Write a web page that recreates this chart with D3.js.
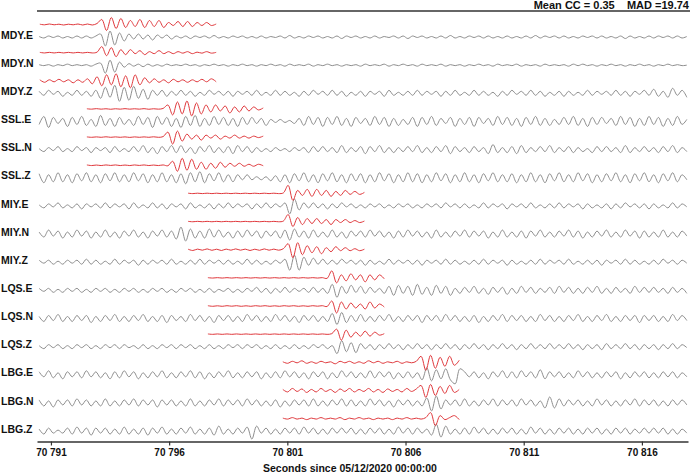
<!DOCTYPE html>
<html>
<head>
<meta charset="utf-8">
<script src="https://cdn.jsdelivr.net/npm/d3@7"></script>
<style>
  body { margin: 0; background: #fff; }
  text { font-family: "Liberation Sans", Arial, sans-serif; font-weight: bold; fill: #111; }
</style>
</head>
<body>
<div id="chart"></div>
<script>
// station / channel names, top to bottom
var channels = ["MDY.E", "MDY.N", "MDY.Z", "SSL.E", "SSL.N", "SSL.Z", "MIY.E", "MIY.N", "MIY.Z",
  "LQS.E", "LQS.N", "LQS.Z", "LBG.E", "LBG.N", "LBG.Z"];

// continuous data window (seconds since 05/12/2020 00:00:00)
var streamStart = 70790.5;
var streamEnd = 70817.9;

// template start time per channel, template length
var templateStarts = [70790.53, 70790.53, 70790.53, 70792.52, 70792.52, 70792.52, 70796.8, 70796.8, 70796.8,
  70797.64, 70797.64, 70797.64, 70800.81, 70800.81, 70800.81];
var templateLength = 7.46;

var tickValues = [70791, 70796, 70801, 70806, 70811, 70816];
var statsText = "Mean CC = 0.35    MAD =19.74";
var xTitle = "Seconds since 05/12/2020 00:00:00";

// continuous data (grey), amplitude
var streamMDYE = [0.5,-1,1,-0.5,1,-1,0.5,-1,1,-1, 1,-1,1,3,-9,6,-8,4,-4,3, -2,3,-2,2,-3,2,-1,2,-2,1,
  -1,1,-1.5,1,-0.5,1,-1,1.5,-1,0.5, -1,1,-0.5,1,-1,0.5,-1,1,-1,0.5, -0.5,1,-1,1.5,-1,0.5,-1,1,-0.5,1,
  -1,0.5,-1,1,-1.5,1,-0.5,1,-1,0.5, -1,1,-1,0.5,-0.5,1,-1,1,-1.5,1, -0.5,1,-1,0.5,-1,1,-1,1.5,-1,0.5,
  -1,1,-0.5,1,-1,1,-1,0.5,-1,1, -1,0.5,-1,1,-1,1.5,-1,1,-0.5,1, -1,1,-1,0.5,-1,1,-0.5,1,-1,1,
  -1,0.5,-1,1,-1.5,1,-1,0.5,-1,1, -1,1,-0.5,1,-1,1,-1,0.5];
var streamMDYN = [0.5,-0.5,0.5,-1,0.5,-0.5,1,-0.5,0.5,-0.5, 0.5,-1,1,2,-8,5,-7,3,-2,1.5, -1,1,-1.5,1,-1,0.5,-1,1,-0.5,0.5,
  -0.5,1,-0.5,0.5,-1,0.5,-0.5,1,-0.5,0.5, -1,0.5,-0.5,1,-0.5,0.5,-1,0.5,-0.5,1, -0.5,0.5,-1,1,-0.5,0.5,-0.5,1,-1,0.5,
  -0.5,1,-0.5,0.5,-1,0.5,-0.5,0.5,-1,1, -0.5,0.5,-0.5,1,-1,0.5,-0.5,1,-0.5,0.5, -1,1,-0.5,0.5,-0.5,1,-1,0.5,-0.5,0.5,
  -1,0.5,-0.5,1,-0.5,0.5,-1,1,-0.5,0.5, -0.5,1,-1,0.5,-0.5,0.5,-1,1,-0.5,0.5, -0.5,0.5,-1,1,-0.5,1,-0.5,0.5,-1,0.5,
  -0.5,1,-0.5,0.5,-1,0.5,-0.5,1,-0.5,0.5, -1,0.5,-0.5,1,-0.5,0.5,-0.5,0];
var streamMDYZ = [2,-2,3,-1,2,-3,1,-2,3,-2, 2,-3,3,-5,6,-4,8,-8,6,-7, 7,-5,4,-6,3,-2,3,-3,2,-2,
  3,-2,2,-3,1,-2,3,-1,2,-2, 2,-3,2,-1,2,-2,3,-2,1,-2, 3,-2,2,-2,1,-3,2,-2,3,-1,
  2,-2,3,-2,2,-3,1,-2,2,-3, 2,-1,2,-3,3,-2,1,-2,2,-2, 3,-2,2,-1,2,-3,2,-2,3,-2,
  1,-2,3,-2,2,-2,1,-3,2,-2, 3,-1,2,-2,3,-2,2,-3,1,-2, 2,-3,2,-2,1,-2,3,-2,2,-1,
  2,-2,3,-2,2,-3,2,-1,3,-2, 4,-3,2,-4,5,-2,3,-4];
var streamSSLE = [-3,5,-6,4,-2,3,-5,4,-3,5, -4,2,-5,6,-4,3,-5,4,-3,2, -4,5,-3,4,-6,5,-3,4,-5,3,
  -6,5,-4,6,-5,3,-4,5,-3,4, -4,3,-5,4,-3,4,-2,3,-4,2, -1,2,-1,1,-2,3,-4,5,-3,4,
  -5,4,-3,5,-4,3,-5,4,-2,3, -4,5,-3,4,-5,3,-4,2,-3,4, -5,4,-3,5,-4,3,-2,4,-5,3,
  -3,4,-5,4,-2,3,-4,5,-3,4, -4,3,-5,4,-3,5,-4,3,-4,2, -3,4,-3,5,-4,3,-5,4,-3,4,
  -2,3,-4,5,-3,4,-5,3,-4,5, -3,4,-5,3,-4,5,-3,2];
var streamSSLN = [1,-2,2,-1,3,-2,1,-2,3,-1, 2,-3,2,-1,2,-3,3,-2,1,-2, 3,-2,4,-3,2,-4,3,-2,4,-3,
  4,-3,2,-4,3,-2,4,-3,2,-3, 3,-4,4,-2,3,-3,2,-2,1,-2, 2,-1,1,-2,2,-1,2,-3,3,-2,
  3,-2,2,-3,4,-3,2,-2,3,-4, 3,-2,4,-3,2,-3,2,-2,3,-2, 4,-3,2,-3,3,-2,4,-4,3,-2,
  2,-3,3,-2,2,-4,5,-3,2,-3, 3,-4,4,-3,2,-2,3,-2,4,-3, 2,-2,3,-3,2,-2,1,-3,3,-2,
  3,-2,2,-3,4,-3,2,-2,3,-2, 2,-3,3,-2,4,-3,2,-2];
var streamSSLZ = [4,-5,3,-4,5,-4,3,-5,4,-3, 5,-4,3,-5,4,-3,5,-4,3,-4, 5,-3,4,-5,3,-4,5,-4,3,-5,
  4,-6,5,-4,6,-5,4,-3,5,-4, 3,-4,3,-2,3,-2,1,-2,1,-3, 2,-4,3,-5,4,-3,5,-4,3,-5,
  4,-3,5,-4,3,-5,4,-3,4,-5, 3,-4,5,-3,4,-5,3,-4,5,-4, 4,-5,3,-4,5,-3,4,-5,3,-4,
  5,-4,3,-5,4,-3,5,-4,3,-4, 4,-5,3,-4,5,-4,3,-5,4,-3, 5,-4,3,-4,5,-3,4,-5,3,-4,
  4,-3,5,-4,3,-5,4,-3,5,-4, 3,-5,4,-3,5,-4,3,-2];
var streamMIYE = [1,-2,2,-1,3,-2,1,-2,2,-3, 2,-1,2,-2,3,-2,2,-1,2,-3, 3,-2,1,-2,3,-2,2,-3,2,-1,
  2,-3,3,-2,1,-2,2,-3,2,-2, 3,-2,2,-1,2,-3,2,-2,3,-2, 2,-1,3,-8,7,-4,3,-2,3,-2,
  2,-3,2,-2,3,-1,2,-2,1,-2, 2,-1,2,-2,1,-2,2,-1,2,-2, 1,-2,2,-1,2,-2,3,-1,2,-2,
  2,-2,1,-2,3,-2,2,-1,2,-3, 2,-1,2,-2,3,-2,1,-2,2,-2, 3,-2,2,-1,2,-3,2,-2,1,-2,
  2,-3,2,-2,3,-1,2,-2,2,-3, 2,-2,1,-2,3,-2,2,-1];
var streamMIYN = [2,-3,4,-2,3,-4,2,-3,4,-2, 3,-4,2,-3,4,-3,2,-4,3,-2, 4,-3,2,-4,3,-2,4,-3,3,-5,
  7,-7,5,-4,3,-4,5,-3,4,-3, 2,-4,3,-3,4,-2,3,-4,3,-2, 3,-4,4,-6,5,-3,3,-4,4,-3,
  2,-3,4,-3,2,-4,3,-2,3,-3, 4,-2,3,-3,2,-4,3,-3,4,-2, 3,-3,2,-4,4,-3,2,-3,3,-2,
  4,-3,3,-2,3,-4,2,-3,4,-3, 2,-3,3,-4,3,-2,4,-3,2,-3, 3,-2,4,-3,3,-4,2,-3,3,-2,
  4,-3,2,-3,4,-2,3,-4,3,-3, 2,-3,4,-3,2,-3,3,-2];
var streamMIYZ = [2,-1,2,-2,1,-2,2,-1,2,-2, 3,-2,2,-2,1,-2,3,-2,2,-1, 2,-3,2,-2,2,-1,2,-2,3,-2,
  1,-2,2,-2,3,-2,2,-1,2,-2, 2,-2,1,-2,3,-2,2,-2,1,-2, 2,-1,3,-8,7,-8,5,-3,4,-2,
  3,-2,2,-2,3,-1,2,-2,2,-3, 2,-2,1,-2,3,-2,2,-1,2,-2, 2,-3,2,-1,2,-2,3,-2,2,-2,
  1,-2,2,-2,3,-2,2,-1,2,-3, 2,-2,1,-2,2,-2,3,-2,2,-1, 2,-2,3,-2,1,-2,2,-2,2,-3,
  2,-1,2,-2,3,-2,2,-2,1,-2, 2,-2,3,-1,2,-2,2,-1];
var streamLQSE = [2,-1,2,-2,1,-2,2,-1,2,-2, 1,-2,2,-1,2,-2,1,-2,2,-1, 2,-2,1,-2,2,-1,2,-2,1,-2,
  2,-1,2,-2,1,-2,2,-2,1,-1, 2,-2,1,-2,2,-1,3,-2,2,-3, 2,-2,3,-2,2,-1,2,-2,3,-2,
  2,-3,6,-7,4,-3,5,-2,4,-3, 3,-2,2,-3,4,-5,5,-3,4,-5, 6,-4,3,-5,5,-3,4,-5,2,-3,
  3,-2,4,-3,2,-4,3,-2,3,-4, 2,-3,4,-2,3,-3,2,-2,3,-3, 4,-2,3,-3,2,-3,3,-2,4,-3,
  2,-3,3,-2,2,-3,4,-2,3,-2, 3,-2,2,-3,3,-2,2,-3];
var streamLQSN = [2,-3,3,-2,4,-3,2,-3,3,-2, 3,-4,2,-3,3,-2,4,-3,2,-3, 3,-2,4,-3,2,-3,3,-4,3,-2,
  2,-3,4,-2,3,-3,2,-4,3,-2, 3,-3,2,-3,4,-2,3,-3,2,-3, 4,-2,3,-3,2,-4,3,-2,3,-3,
  2,-3,5,-6,6,-4,3,-3,4,-3, 2,-3,3,-2,4,-3,2,-3,3,-2, 3,-4,3,-2,3,-3,4,-2,3,-3,
  2,-3,3,-4,2,-3,3,-2,4,-3, 3,-2,3,-3,2,-3,4,-2,3,-3, 2,-3,3,-2,4,-3,2,-3,3,-2,
  4,-3,2,-3,3,-2,3,-4,3,-2, 3,-3,2,-3,4,-2,3,-2];
var streamLQSZ = [1,-2,2,-1,2,-2,1,-2,2,-1, 2,-2,1,-2,2,-1,2,-2,2,-1, 1,-2,2,-2,1,-2,2,-1,2,-2,
  2,-1,2,-2,1,-2,2,-2,1,-2, 2,-1,2,-2,2,-1,2,-2,1,-2, 2,-2,1,-2,2,-2,1,-2,2,-1,
  2,-2,1,-7,6,-5,4,-6,3,-2, 2,-3,2,-2,3,-2,2,-3,2,-2, 3,-2,2,-3,2,-2,3,-2,2,-3,
  2,-2,3,-2,2,-3,2,-2,3,-2, 2,-3,2,-2,3,-2,2,-2,3,-2, 2,-2,3,-2,2,-3,2,-2,2,-3,
  3,-2,2,-2,3,-2,2,-3,2,-2, 2,-3,2,-2,3,-2,2,-1];
var streamLBGE = [3,-2,4,-3,2,-4,3,-2,3,-3, 4,-2,3,-3,2,-4,3,-3,4,-2, 3,-4,2,-3,3,-2,4,-3,2,-3,
  3,-2,4,-3,3,-4,2,-3,3,-2, 4,-3,2,-3,3,-2,3,-4,2,-3, 3,-3,4,-2,3,-3,2,-4,3,-2,
  3,-4,2,-3,4,-2,3,-3,2,-3, 4,-3,3,-2,3,-4,2,-3,3,-3, 2,-5,7,-6,5,-4,6,-5,-9,6,
  3,-2,3,-3,2,-4,3,-2,4,-3, 3,-3,4,-2,3,-3,5,-4,3,-2, 3,-3,2,-3,4,-2,3,-3,2,-3,
  3,-2,3,-4,2,-3,3,-2,3,-3, 2,-3,3,-2,3,-3,2,-2];
var streamLBGN = [3,-3,2,-4,3,-2,3,-3,4,-2, 3,-3,2,-3,4,-3,2,-3,3,-2, 4,-3,3,-2,3,-4,3,-2,3,-3,
  2,-3,4,-3,2,-3,3,-2,4,-3, 3,-2,3,-3,4,-2,3,-3,2,-3, 3,-4,2,-3,3,-2,3,-3,4,-3,
  2,-3,3,-2,4,-3,3,-3,2,-3, 4,-2,3,-3,2,-4,3,-2,3,-3, 2,-3,5,-8,7,-6,3,-2,3,-3,
  4,-3,2,-3,3,-2,4,-3,3,-2, 3,-3,4,-2,3,-3,2,-5,6,-5, 4,-3,3,-2,3,-3,2,-3,4,-2,
  3,-3,2,-3,3,-2,4,-3,3,-2, 3,-3,2,-3,3,-2,3,-2];
var streamLBGZ = [2,-3,3,-2,1,-2,3,-3,4,-2, 3,-4,3,-2,3,-3,2,-3,4,-3, 2,-3,3,-4,3,-2,4,-3,2,-3,
  3,-2,4,-3,2,-3,3,-4,5,-3, 2,-3,3,-2,4,-8,5,-2,3,-3, 2,-3,3,-2,3,-3,4,-2,3,-3,
  2,-3,3,-2,3,-2,3,-3,2,-3, 3,-2,3,-3,2,-3,4,-2,3,-3, 3,-2,2,-4,7,-6,5,-3,2,-3,
  3,-3,4,-2,3,-3,2,-3,3,-2, 3,-3,2,-3,4,-2,3,-3,2,-3, 3,-2,3,-3,2,-3,3,-2,3,-3,
  2,-3,3,-2,3,-3,2,-2,3,-2, 3,-2,3,-3,2,-3,2,-2];

// templates (red)
var templMDYE = [0.3,-0.3,0.5,-0.3,0.3,-0.5,0.3,-0.3,0.5,-0.5,0.5,-0.5,1, 5,-6,7,-4,6,-3,4,-2,5,-3,4,-2,4,-3,2,-1,3,-2,3,-2,2,-1,2,-1,0.5];
var templMDYN = [0.3,-0.3,0.3,-0.3,0.3,-0.3,0.3,-0.3,0.3,-0.3,0.3,-0.3,0.5, 6,-3,5,-4,3,-2,3,-1,2,-2,1,-1,2,-1,1,-1,1,-0.5,1,-1,0.5,-0.5,1,-0.5,0.3];
var templMDYZ = [1,-1.5,1,-1,1.5,-1,1,-2,1,-1.5, 2,-3,4,-5,6,-4,7,-6,5,-7, 6,-4,3,-2,2,-1.5,1,-2,1.5,-1, 1,-1.5,1,-1,1.5,-1,2,-1];
var templSSLE = [0.2,-0.2,0.3,-0.2,0.2,-0.3,0.2,-0.2,0.3,-0.2,0.2,-0.2,0.3,-0.3,0.2,-0.2,0.5, 4,-6,7,-5,8,-7,6,-5, 4,-3,4,-2,3,-4,2,-3,3,-2,2,-1,1];
var templSSLN = [0.2,-0.2,0.2,-0.2,0.3,-0.2,0.2,-0.2,0.2,-0.3,0.2,-0.2,0.2,-0.2,0.3,-0.2,0.5, 5,-7,6,-4,3, -2,2,-3,2,-1,2,-2,1,-1,2,-1,1,-1,1,-0.5,1];
var templSSLZ = [0.3,-0.3,0.2,-0.3,0.3,-0.2,0.3,-0.3,0.2,-0.3,0.3,-0.2,0.3,-0.3,0.2,-0.3,0.3,-0.5, 4,-6,7,-5,6,-4, 3,-4,2,-3,3,-2,2,-1,2,-1,1,-1,1,-0.5];
var templMIYE = [0.2,-0.2,0.2,-0.2,0.2,-0.2,0.2,-0.2,0.2,-0.2,0.2,-0.2,0.2,-0.2,0.2,-0.2,0.2,-0.2,0.2,-0.2,0.5, 8,-7,3,-2,4,-3,4,-2,3,-3,2,-2,3,-1,2,-1,1];
var templMIYN = [0.2,-0.2,0.2,-0.2,0.2,-0.2,0.2,-0.2,0.2,-0.2,0.2,-0.2,0.2,-0.2,0.2,-0.2,0.2,-0.2,0.2,-0.2,0.5, 7,-5,4,-3,3,-2,3,-2,2,-3,2,-1,2,-1,1,-1,0.5];
var templMIYZ = [0.5,-0.8,0.6,-0.5,0.8,-0.6,0.5,-0.8,0.6,-0.5,0.8,-0.5,0.6,-0.8,0.5,-0.6,0.8,-0.5,0.6,-0.5,1, 6,-8,7,-5,4,-3,3,-4,2,-2,3,-1,2,-1,1,-1,0.5];
var templLQSE = [0.2,-0.2,0.2,-0.2,0.2,-0.2,0.2,-0.2,0.2,-0.2,0.2,-0.2,0.2,-0.2,0.2,-0.2,0.2,-0.2,0.2,-0.2,0.2,-0.2,0.2,-0.2,0.2,-0.5, 7,-5,3,-3,4,-2,3,-4,3,-2,3,-1];
var templLQSN = [0.3,-0.3,0.2,-0.3,0.3,-0.2,0.3,-0.3,0.2,-0.3,0.3,-0.2,0.3,-0.3,0.2,-0.3,0.3,-0.2,0.3,-0.3,0.2,-0.3,0.3,-0.2,0.3,-0.5, 5,-7,4,-3,3,-2,2,-3,4,-2,2,-1];
var templLQSZ = [0.2,-0.2,0.2,-0.2,0.2,-0.2,0.2,-0.2,0.2,-0.2,0.2,-0.2,0.2,-0.2,0.2,-0.2,0.2,-0.2,0.2,-0.2,0.2,-0.2,0.2,-0.2,0.2,-0.2,0.5, 5,-6,4,-3,2,-2,3,-2,2,-1,0.5];
var templLBGE = [0.5,-1,1,-0.5,1.5,-1,0.5,-1,1,-0.5,0.5,-1.5,1,-0.5,1,-1,0.5,-1,1.5,-0.5,1,-1,0.5,-0.5,1,-1,0.5,-0.5,1, 6,-8,7,-6,5,-4,6,-3,2];
var templLBGN = [1,-1.5,2,-1,1.5,-2,1,-1.5,2,-1,1,-2,1.5,-1,2,-1.5,1,-1,2,-1.5,1,-2,1.5,-1,1,-1.5,2,-1,1.5, 5,-7,6,-5,4,-3,5,-2,1];
var templLBGZ = [0.5,-0.5,1,-0.5,0.5,-1,0.5,-0.5,1,-0.5,0.5,-0.5,1,-1,0.5,-0.5,1,-0.5,0.5,-1,0.5,-0.5,0.5,-1,0.5,-0.5,1,-0.5,0.5,-0.5,1, 6,-7,3,-1,1,3,-1];

var streams = [streamMDYE, streamMDYN, streamMDYZ, streamSSLE, streamSSLN, streamSSLZ,
  streamMIYE, streamMIYN, streamMIYZ, streamLQSE, streamLQSN, streamLQSZ, streamLBGE, streamLBGN, streamLBGZ];
var templates = [templMDYE, templMDYN, templMDYZ, templSSLE, templSSLN, templSSLZ,
  templMIYE, templMIYN, templMIYZ, templLQSE, templLQSN, templLQSZ, templLBGE, templLBGN, templLBGZ];

var svgWidth = 700;
var svgHeight = 475;
var margin = { top: 11, right: 12, bottom: 33, left: 37 };
var width = svgWidth - margin.left - margin.right;
var height = svgHeight - margin.top - margin.bottom;

var svg = d3.select("#chart")
  .append("svg")
  .attr("width", svgWidth)
  .attr("height", svgHeight);

var chartGroup = svg.append("g")
  .attr("transform", `translate(${margin.left}, ${margin.top})`);

// scales
var xScale = d3.scaleLinear()
  .domain([70790.41, 70817.95])
  .range([0, width]);

// grey trace baseline for each channel
var rowScale = d3.scaleLinear()
  .domain([0, channels.length - 1])
  .range([26, 420.1]);

var templateOffset = 12.5;

// top spine
chartGroup.append("line")
  .attr("x1", 0).attr("x2", width + 2)
  .attr("y1", 0).attr("y2", 0)
  .attr("stroke", "#333")
  .attr("stroke-width", 1.3);

channels.forEach(function(name, i) {
  var base = rowScale(i);
  var amp = d3.scaleLinear().domain([-10, 10]).range([base + 10, base - 10]);
  var ampT = d3.scaleLinear().domain([-10, 10]).range([base - templateOffset + 10, base - templateOffset - 10]);

  var data = streams[i];
  var tStream = d3.scaleLinear().domain([0, data.length - 1]).range([streamStart, streamEnd]);
  var streamLine = d3.line()
    .curve(d3.curveCatmullRom.alpha(0.5))
    .x((d, j) => xScale(tStream(j)))
    .y(d => amp(d));

  chartGroup.append("path")
    .datum(data)
    .attr("d", streamLine)
    .attr("fill", "none")
    .attr("stroke", "#8e8e8e")
    .attr("stroke-width", 1);

  var tpl = templates[i];
  var tTempl = d3.scaleLinear().domain([0, tpl.length - 1])
    .range([templateStarts[i], templateStarts[i] + templateLength]);
  var templLine = d3.line()
    .curve(d3.curveCatmullRom.alpha(0.5))
    .x((d, j) => xScale(tTempl(j)))
    .y(d => ampT(d));

  chartGroup.append("path")
    .datum(tpl)
    .attr("d", templLine)
    .attr("fill", "none")
    .attr("stroke", "#e0383c")
    .attr("stroke-width", 1);

  // channel label
  svg.append("text")
    .attr("x", 1)
    .attr("y", margin.top + base - 2)
    .attr("dy", "0.35em")
    .style("font-size", "10.5px")
    .text(name);
});

// bottom axis
var bottomAxis = d3.axisBottom(xScale)
  .tickValues(tickValues)
  .tickSize(4)
  .tickSizeOuter(0)
  .tickFormat(d => d3.format(",")(d).replace(",", " "));

var axisG = chartGroup.append("g")
  .attr("transform", `translate(0, ${height - 0.5})`)
  .call(bottomAxis);

axisG.select(".domain").attr("stroke", "#333").attr("stroke-width", 1.3);
axisG.selectAll(".tick line").attr("stroke", "#333").attr("stroke-width", 1.2);
axisG.selectAll(".tick text")
  .attr("y", 7)
  .style("font-size", "10px")
  .style("font-family", "'Liberation Sans', Arial, sans-serif")
  .style("font-weight", "bold")
  .attr("fill", "#111");

// axis title
svg.append("text")
  .attr("x", 350)
  .attr("y", 472)
  .attr("text-anchor", "middle")
  .style("font-size", "10.5px")
  .text(xTitle);

// stats in the upper right
svg.append("text")
  .attr("x", 689)
  .attr("y", 9)
  .attr("text-anchor", "end")
  .style("font-size", "11px")
  .style("white-space", "pre")
  .attr("xml:space", "preserve")
  .text(statsText);
</script>
</body>
</html>
